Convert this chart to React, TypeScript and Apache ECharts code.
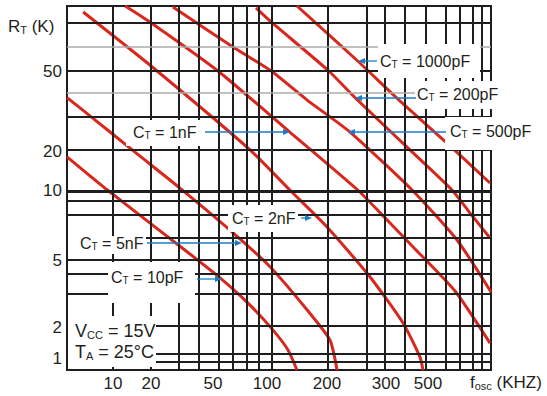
import React, { useEffect, useRef } from 'react';
import * as echarts from 'echarts';

// Oscillator frequency (kHz) on x, timing resistor R_T (kΩ) on y.
const xTickValues = [10, 20, 50, 100, 200, 300, 500];
const xTickLabels = ['10', '20', '50', '100', '200', '300', '500'];
const yTickValues = [1, 2, 5, 10, 20, 50];
const yTickLabels = ['1', '2', '5', '10', '20', '50'];

// Curves: [f_osc kHz, R_T kΩ]
const ct5nF = [[4.3, 40], [7.3, 32.8], [15.8, 19.7], [34, 10.5], [65.7, 7.14], [105, 4.7], [167, 2.76], [205, 1.58], [217, 0.75]];
const ct10pF = [[4.3, 18.5], [9.3, 10], [36.5, 5.7], [56.5, 4.2], [82.4, 3.07], [110, 1.9], [135, 1.26], [150, 0.75]];
const ct2nF = [[6.3, 95.4], [19.7, 54.6], [84.3, 20.4], [138, 10], [200, 7.36], [273, 4.24], [381, 2.18], [462, 1.03], [476, 0.75]];
const ct1nF = [[13.2, 100], [19.7, 87.7], [54.6, 50], [138, 27.1], [252, 10], [297, 8.07], [429, 5.93], [714, 3.61], [992, 1.48]];
const ct500pF = [[30.6, 99.2], [68.5, 68.5], [107, 50], [167, 39.1], [239, 27.1], [424, 10], [730, 6.43], [1000, 3.57]];
const ct200pF = [[89.8, 98.5], [105, 88.5], [203, 50], [248, 39.9], [414, 20.4], [690, 10], [833, 8.36], [992, 6.57]];
const ct1000pF = [[150, 100], [252, 57.7], [362, 39.1], [675, 21.9], [992, 11.8]];

const curveNames = ['C_T = 5nF', 'C_T = 10pF', 'C_T = 2nF', 'C_T = 1nF', 'C_T = 500pF', 'C_T = 200pF', 'C_T = 1000pF'];
const curveData = [ct5nF, ct10pF, ct2nF, ct1nF, ct500pF, ct200pF, ct1000pF];

// The printed chart's scales are not true log scales: calibration of value -> offset along the plot.
const PLOT_W = 424;
const PLOT_H = 364;
const xScaleValues = [4.3, 10, 20, 50, 100, 200, 300, 500, 1000];
const xScaleOffsets = [0, 46, 84, 146, 200, 260, 319, 361, 424];
const yScaleValues = [0.75, 1, 2, 5, 10, 20, 50, 100];
const yScaleOffsets = [0, 12, 43, 110, 180, 219, 299, 364];

// printed grid lines (offsets from plot left / plot bottom)
const vGridOffsets = [46, 84, 112, 132, 152, 166, 180, 192, 205, 261, 300, 318, 338, 359, 379, 393, 406, 415];
const hGridOffsets = [347, 299, 253, 220, 169, 155, 132, 110, 96, 76, 44, 16, 8];
const hGridGrayOffsets = [323, 277];
const hGridThickOffsets = [179];

const FONT = '"Liberation Sans", Arial, Helvetica, sans-serif';
const TEXT = '#231f20';
const RED = '#d8281d';
const BLUE = '#1b7dc6';
const GRID = '#1e1e1e';

function warp(v: number, vals: number[], offs: number[], total: number) {
  let i = 0;
  while (i < vals.length - 2 && v > vals[i + 1]) i++;
  const t = (v - vals[i]) / (vals[i + 1] - vals[i]);
  return ((offs[i] + t * (offs[i + 1] - offs[i])) / total) * 100;
}
const wx = (f: number) => warp(f, xScaleValues, xScaleOffsets, PLOT_W);
const wy = (r: number) => warp(r, yScaleValues, yScaleOffsets, PLOT_H);

const GL = 67;
const GT = 6;

function rich(fs: number, subFs: number) {
  return {
    n: { fontSize: fs, fontFamily: FONT, fill: TEXT, lineHeight: 18, verticalAlign: 'bottom' },
    s: { fontSize: subFs, fontFamily: FONT, fill: TEXT, lineHeight: 10, verticalAlign: 'bottom' },
  };
}

function subText(x: number, yc: number, main: string, sub: string, rest: string, fs = 16, subFs = 10, align = 'left') {
  return {
    type: 'text',
    z: 60,
    x,
    y: yc - 10,
    style: {
      text: `{n|${main}}{s|${sub}}{n|${rest}}`,
      rich: rich(fs, subFs),
      align,
      verticalAlign: 'top',
      textAlign: align,
      textVerticalAlign: 'top',
    },
  };
}

function box(x: number, y: number, w: number, h: number) {
  return { type: 'rect', z: 50, shape: { x, y, width: w, height: h }, style: { fill: '#ffffff' } };
}

function arrow(x1: number, x2: number, y: number) {
  const dir = x2 > x1 ? 1 : -1;
  return [
    { type: 'line', z: 60, shape: { x1, y1: y, x2: x2 - dir * 5, y2: y }, style: { stroke: BLUE, lineWidth: 1.3 } },
    {
      type: 'polygon',
      z: 60,
      shape: { points: [[x2, y], [x2 - dir * 7, y - 3], [x2 - dir * 7, y + 3]] },
      style: { fill: BLUE },
    },
  ];
}

function ctLabel(text: string, x: number, yc: number) {
  const rest = text.replace('C_T', '');
  return subText(x, yc, 'C', 'T', rest, 16, 10);
}

function buildOption() {
  const gridLines: any[] = [];
  vGridOffsets.forEach((o) =>
    gridLines.push({ xAxis: (o / PLOT_W) * 100, lineStyle: { color: GRID, width: 2, type: 'solid' } })
  );
  hGridOffsets.forEach((o) =>
    gridLines.push({ yAxis: (o / PLOT_H) * 100, lineStyle: { color: GRID, width: 2, type: 'solid' } })
  );
  hGridGrayOffsets.forEach((o) =>
    gridLines.push({ yAxis: (o / PLOT_H) * 100, lineStyle: { color: '#ababab', width: 1.5, type: 'solid' } })
  );
  hGridThickOffsets.forEach((o) =>
    gridLines.push({ yAxis: (o / PLOT_H) * 100, lineStyle: { color: GRID, width: 3, type: 'solid' } })
  );

  const xPos = xTickValues.map(wx);
  const yPos = yTickValues.map(wy);
  const lookup = (pos: number[], labels: string[]) => (v: number) => {
    let best = 0;
    pos.forEach((p, i) => {
      if (Math.abs(p - v) < Math.abs(pos[best] - v)) best = i;
    });
    return labels[best];
  };

  const graphics: any[] = [
    // label backgrounds
    box(378, 44, 102, 34),
    box(415, 81, 80, 28),
    box(445, 117, 100, 33),
    box(126, 120, 76, 26),
    box(228, 205, 70, 27),
    box(68, 236, 78, 18),
    box(108, 262, 87, 41),
    box(68, 316, 88, 51),
    ctLabel(curveNames[6], 380, 61),
    ctLabel(curveNames[5], 417, 94),
    ctLabel(curveNames[4], 450, 131),
    ctLabel(curveNames[3], 133, 132),
    ctLabel(curveNames[2], 232, 218),
    ctLabel(curveNames[0], 80, 243),
    ctLabel(curveNames[1], 111, 277),
    ...arrow(377, 358, 61),
    ...arrow(416, 355, 98),
    ...arrow(446, 348, 132),
    ...arrow(205, 290, 132),
    ...arrow(301, 312, 218),
    ...arrow(147, 242, 243),
    ...arrow(197, 222, 279),
    subText(75, 332, 'V', 'CC', ' = 15V', 18, 11),
    subText(75, 353, 'T', 'A', ' = 25°C', 18, 11),
    subText(8, 27, 'R', 'T', ' (K)', 17, 11),
    subText(470, 383, 'f', 'osc', ' (KHZ)', 17, 11),
  ];

  return {
    animation: false,
    backgroundColor: '#ffffff',
    grid: {
      left: GL,
      top: GT,
      width: PLOT_W,
      height: PLOT_H,
      show: true,
      borderColor: GRID,
      borderWidth: 2,
      backgroundColor: 'transparent',
      containLabel: false,
      outerBoundsMode: 'none',
    },
    xAxis: {
      type: 'value',
      min: 0,
      max: 100,
      axisLine: { show: false },
      axisTick: { show: false },
      splitLine: { show: false },
      axisLabel: {
        customValues: xPos,
        formatter: lookup(xPos, xTickLabels),
        fontSize: 17,
        fontFamily: FONT,
        color: TEXT,
        margin: 5,
      },
    },
    yAxis: {
      type: 'value',
      min: 0,
      max: 100,
      axisLine: { show: false },
      axisTick: { show: false },
      splitLine: { show: false },
      axisLabel: {
        customValues: yPos,
        formatter: lookup(yPos, yTickLabels),
        fontSize: 17,
        fontFamily: FONT,
        color: TEXT,
        margin: 5,
      },
    },
    series: [
      {
        type: 'line',
        name: 'grid',
        data: [],
        z: 1,
        silent: true,
        markLine: {
          silent: true,
          symbol: ['none', 'none'],
          label: { show: false },
          animation: false,
          data: gridLines,
        },
      },
      ...curveData.map((d, i) => ({
        type: 'line',
        name: curveNames[i],
        data: d.map(([f, r]) => [wx(f), wy(r)]),
        smooth: 0.2,
        showSymbol: false,
        symbol: 'none',
        silent: true,
        z: 3,
        lineStyle: { color: RED, width: 3 },
      })),
    ],
    graphic: graphics,
  };
}

export default function App() {
  const ref = useRef<HTMLDivElement>(null);
  useEffect(() => {
    if (!ref.current) return;
    const chart = echarts.init(ref.current, null, { renderer: 'svg' });
    chart.setOption(buildOption() as any);
    return () => chart.dispose();
  }, []);
  return (
    <div
      ref={ref}
      style={{ position: 'absolute', left: 0, top: 0, width: 547, height: 396, background: '#ffffff' }}
    />
  );
}
